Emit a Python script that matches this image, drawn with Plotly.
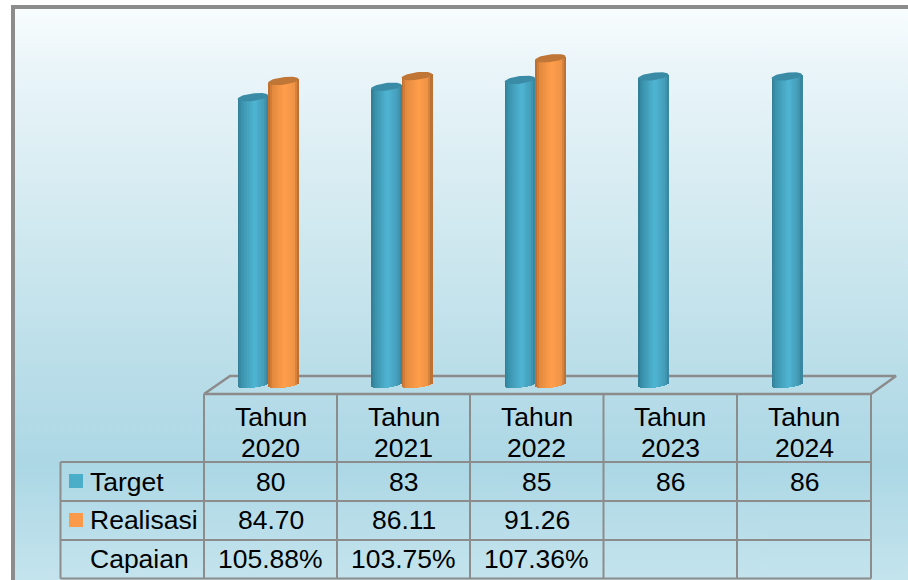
import math
import plotly.graph_objects as go

# ---- data ----
years = ["2020", "2021", "2022", "2023", "2024"]
target = [80, 83, 85, 86, 86]
realisasi = [84.70, 86.11, 91.26, None, None]
capaian = ["105.88%", "103.75%", "107.36%", "", ""]
realisasi_labels = ["84.70", "86.11", "91.26", "", ""]

# ---- style ----
W, H = 908, 580
GREY = "#8c8c8c"
FONT = "Liberation Sans"
FS = 26.5
TEAL_STOPS = [(0, "#2f7a91"), (0.15, "#3b94ad"), (0.55, "#4fb4d3"), (0.85, "#459fba"), (1, "#37819a")]
ORANGE_STOPS = [(0, "#b5682c"), (0.15, "#e48a3f"), (0.55, "#ff9e4c"), (0.85, "#ef9345"), (1, "#b0692f")]
TEAL_CAP = "#3a8ca6"
ORANGE_CAP = "#c07636"

# pixel <-> data scale of the bar plot
PX_PER_CAT = 133.5
CAT0_PX = 268.0
PX_PER_UNIT = 3.46
ZERO_PX = 374.0
BASELINE = (ZERO_PX - 384.0) / PX_PER_UNIT
BAR_PX = 30.5
N_SLICES = 16
CAP_H = 3.8 / PX_PER_UNIT
TILT = 1.8 / PX_PER_UNIT


def shade(stops, t):
    for (t0, c0), (t1, c1) in zip(stops, stops[1:]):
        if t <= t1:
            f = (t - t0) / (t1 - t0)
            a = [int(c0[i:i + 2], 16) for i in (1, 3, 5)]
            b = [int(c1[i:i + 2], 16) for i in (1, 3, 5)]
            return "rgb(%d,%d,%d)" % tuple(round(p + (q - p) * f) for p, q in zip(a, b))
    return stops[-1][1]


fig = go.Figure()

# background panel with a vertical gradient (pixel axes x/y)
fig.add_trace(go.Scatter(
    x=[15, W, W, 15, 15], y=[9, 9, H, H, 9], mode="lines", line=dict(width=0),
    fill="toself", hoverinfo="skip",
    fillgradient=dict(type="vertical", colorscale=[
        [0.0, "#c4e4ed"], [0.20, "#acd7e5"], [0.35, "#b8dde8"], [0.6, "#cfe8ef"],
        [0.9, "#eaf5f9"], [1.0, "#f8fdfe"]]),
    xaxis="x", yaxis="y"))

# frame and 3D floor outline
fig.add_trace(go.Scatter(x=[13, 13, W], y=[H, 7, 7], mode="lines",
                         line=dict(color=GREY, width=4), xaxis="x", yaxis="y", hoverinfo="skip"))
fig.add_trace(go.Scatter(x=[204, 230, 896, 871, 204], y=[394, 376, 376, 394, 394], mode="lines",
                         line=dict(color=GREY, width=2.5), xaxis="x", yaxis="y", hoverinfo="skip"))

# table grid
col_edges = [204, 337, 470, 603.5, 737, 871]
row_edges = [462, 501, 540, 578.5]
grid_x, grid_y = [], []
for cx in col_edges:
    grid_x += [cx, cx, None]
    grid_y += [394, 578.5, None]
for ry in row_edges:
    grid_x += [60.5, 871, None]
    grid_y += [ry, ry, None]
grid_x += [60.5, 60.5]
grid_y += [462, 578.5]
fig.add_trace(go.Scatter(x=grid_x, y=grid_y, mode="lines", line=dict(color=GREY, width=2),
                         xaxis="x", yaxis="y", hoverinfo="skip"))

# legend keys
for y0, colr in ((481, "#4aaec8"), (520, "#fb9a4a")):
    fig.add_shape(type="rect", xref="x", yref="y", x0=69, x1=83, y0=y0 - 7, y1=y0 + 7,
                  fillcolor=colr, line=dict(width=0))


def add_cylinders(values, offset_px, stops, cap):
    step = BAR_PX / N_SLICES
    xs = [i for i, v in enumerate(values) if v is not None]
    vals = [values[i] for i in xs]
    for s in range(N_SLICES):
        t_mid = (s + 0.5) / N_SLICES
        u = 2 * t_mid - 1
        bottom = BASELINE - CAP_H * math.sqrt(1 - u * u) + TILT * u
        rise = TILT * u
        left = offset_px + s * step
        fig.add_trace(go.Bar(
            x=xs,
            y=[v + rise - bottom for v in vals],
            base=[bottom] * len(vals),
            offset=left / PX_PER_CAT,
            width=(step + 0.6) / PX_PER_CAT,
            marker=dict(color=shade(stops, t_mid), line=dict(width=0)),
            xaxis="x2", yaxis="y2", hoverinfo="skip"))
    ex, ey = [], []
    a = BAR_PX / 2 / PX_PER_CAT
    for cat, v in zip(xs, vals):
        cx = cat + (offset_px + BAR_PX / 2) / PX_PER_CAT
        for k in range(49):
            ph = 2 * math.pi * k / 48
            ex.append(cx + a * math.cos(ph))
            ey.append(v + CAP_H * math.sin(ph) + TILT * math.cos(ph))
        ex.append(None)
        ey.append(None)
    fig.add_trace(go.Scatter(x=ex, y=ey, mode="lines", fill="toself", fillcolor=cap,
                             line=dict(width=0), xaxis="x2", yaxis="y2", hoverinfo="skip"))


add_cylinders(target, -30.5, TEAL_STOPS, TEAL_CAP)
add_cylinders(realisasi, 0.0, ORANGE_STOPS, ORANGE_CAP)


def label(x, y, text, anchor="center"):
    fig.add_annotation(x=x, y=y, xref="x", yref="y", text=text, showarrow=False,
                       xanchor=anchor, yanchor="middle",
                       font=dict(family=FONT, size=FS, color="#000000"))


col_centers = [(a + b) / 2 for a, b in zip(col_edges, col_edges[1:])]
for i, yr in enumerate(years):
    cx = col_centers[i]
    label(cx, 417, "Tahun")
    label(cx, 448, yr)
    label(cx, 482, str(target[i]))
    if realisasi_labels[i]:
        label(cx, 520, realisasi_labels[i])
    if capaian[i]:
        label(cx, 559, capaian[i])
label(87.5, 482, "Target", "left")
label(87.5, 520, "Realisasi", "left")
label(87.5, 559, "Capaian", "left")

hidden = dict(visible=False, showgrid=False, zeroline=False, fixedrange=True)
fig.update_layout(
    width=W, height=H, margin=dict(l=0, r=0, t=0, b=0), autosize=False,
    paper_bgcolor="white", plot_bgcolor="rgba(0,0,0,0)", showlegend=False,
    barmode="overlay", bargap=0,
    xaxis=dict(range=[0, W], domain=[0, 1], **hidden),
    yaxis=dict(range=[H, 0], domain=[0, 1], **hidden),
    xaxis2=dict(range=[(0 - CAT0_PX) / PX_PER_CAT, (W - CAT0_PX) / PX_PER_CAT],
                overlaying="x", anchor="y2", **hidden),
    yaxis2=dict(range=[(ZERO_PX - H) / PX_PER_UNIT, ZERO_PX / PX_PER_UNIT],
                overlaying="y", anchor="x2", **hidden),
)
fig.write_html("out.html", config=dict(displayModeBar=False),
               post_script="document.documentElement.style.margin='0';document.body.style.margin='0';")
